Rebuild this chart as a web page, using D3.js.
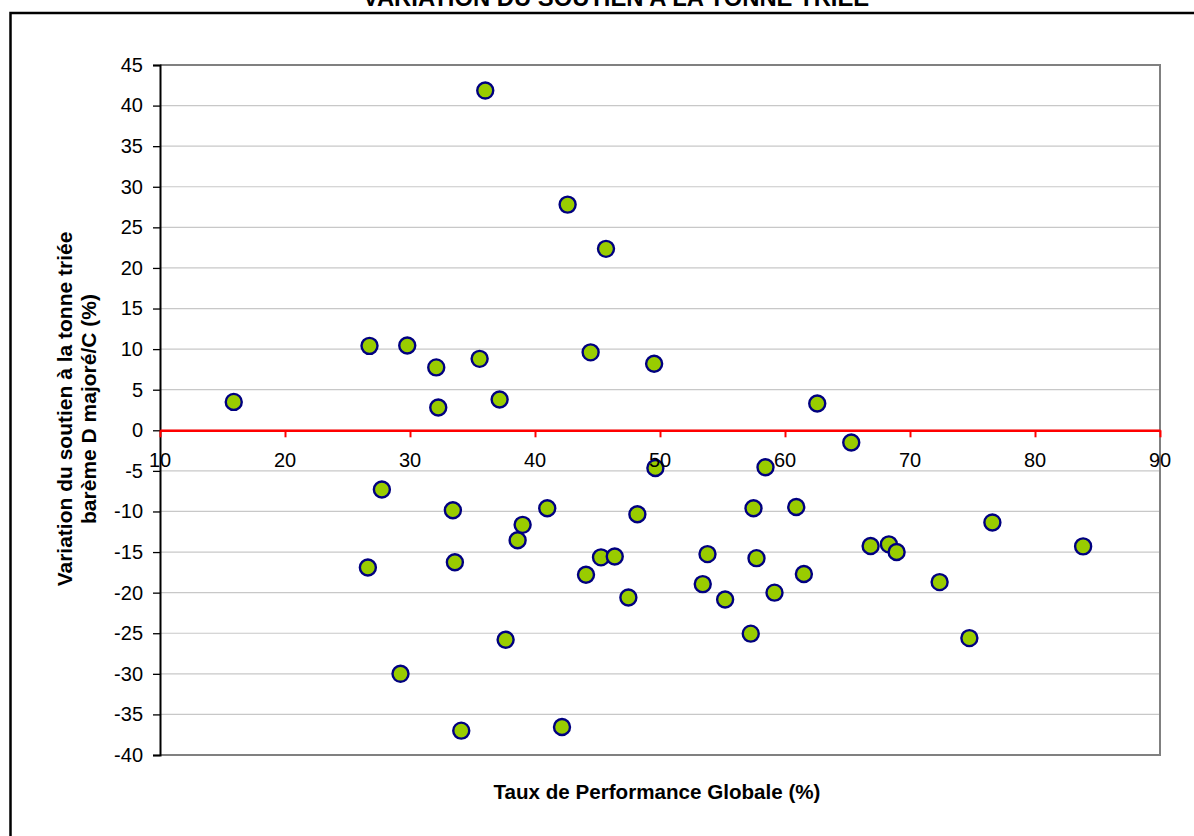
<!DOCTYPE html>
<html>
<head>
<meta charset="utf-8">
<script src="https://cdnjs.cloudflare.com/ajax/libs/d3/7.8.5/d3.min.js"></script>
<style>
  body { margin: 0; background: #fff; }
  text { font-family: "Liberation Sans", Arial, sans-serif; }
</style>
</head>
<body>
<div id="chart"></div>
<script>
// Data
var tauxPerformance = [15.9, 26.63, 26.76, 27.75, 29.24, 29.78, 32.1, 32.26, 33.43, 33.59, 34.1, 35.57,
  36.02, 37.17, 37.65, 38.61, 39.01, 40.98, 42.16, 42.61, 44.08, 44.45, 45.28, 45.68,
  46.38, 47.47, 48.19, 49.53, 49.63, 53.42, 53.8, 55.21, 57.26, 57.48, 57.72, 58.44,
  59.16, 60.9, 61.51, 62.58, 65.3, 66.85, 68.31, 68.93, 72.37, 74.75, 76.59, 83.85];
var variationSoutien = [3.5, -16.9, 10.4, -7.3, -30.0, 10.45, 7.75, 2.8, -9.85, -16.25, -37.0, 8.8,
  41.85, 3.8, -25.8, -13.55, -11.65, -9.6, -36.55, 27.8, -17.8, 9.6, -15.65, 22.35,
  -15.55, -20.6, -10.35, 8.2, -4.65, -18.95, -15.25, -20.85, -25.05, -9.6, -15.75, -4.55,
  -20.0, -9.45, -17.7, 3.3, -1.5, -14.25, -14.05, -15.0, -18.7, -25.6, -11.35, -14.3];
var xTicks = [10, 20, 30, 40, 50, 60, 70, 80, 90];
var yTicks = [45, 40, 35, 30, 25, 20, 15, 10, 5, 0, -5, -10, -15, -20, -25, -30, -35, -40];

var titre = "VARIATION DU SOUTIEN A LA TONNE TRIEE";
var titreX = "Taux de Performance Globale (%)";
var titreY = ["Variation du soutien à la tonne triée", "barème D majoré/C (%)"];

var W = 1194, H = 836;
var plot = {left: 160, right: 1160, top: 65, bottom: 755};

var svg = d3.select("#chart").append("svg")
  .attr("width", W)
  .attr("height", H);

svg.append("rect").attr("width", W).attr("height", H).attr("fill", "#fff");

// outer frame (runs past the right and bottom edges)
svg.append("rect")
  .attr("x", 10.5).attr("y", 13)
  .attr("width", W + 20).attr("height", H + 20)
  .attr("fill", "none")
  .attr("stroke", "#000")
  .attr("stroke-width", 2.5);

var x = d3.scaleLinear().domain([10, 90]).range([plot.left, plot.right]);
var y = d3.scaleLinear().domain([-40, 45]).range([plot.bottom, plot.top]);

// plain hyphen for negative labels, like the original
var fmt = function(d) { return String(d); };

// horizontal gridlines
svg.append("g")
  .selectAll("line")
  .data(yTicks)
  .enter().append("line")
  .attr("x1", plot.left).attr("x2", plot.right)
  .attr("y1", function(d) { return y(d); })
  .attr("y2", function(d) { return y(d); })
  .attr("stroke", "#c8c8c8")
  .attr("stroke-width", 1.2);

// plot area border (top, right, bottom in grey)
svg.append("path")
  .attr("d", "M" + plot.left + "," + y(45) + "H" + plot.right + "V" + y(-40) + "H" + plot.left)
  .attr("fill", "none")
  .attr("stroke", "#808080")
  .attr("stroke-width", 2);

// left axis
var yAxis = svg.append("g")
  .attr("transform", "translate(" + plot.left + ",0)")
  .call(d3.axisLeft(y).tickValues(yTicks).tickSize(7).tickPadding(10).tickFormat(fmt));
yAxis.select(".domain").attr("stroke", "#000").attr("stroke-width", 2);
yAxis.selectAll(".tick line").attr("stroke", "#000").attr("stroke-width", 1.3);
yAxis.selectAll(".tick text")
  .attr("fill", "#000")
  .style("font-size", "20px")
  .style("font-family", "'Liberation Sans', Arial, sans-serif");

// zero line in red with ticks
var xAxis = svg.append("g")
  .attr("transform", "translate(0," + y(0) + ")")
  .call(d3.axisBottom(x).tickValues(xTicks).tickSize(7).tickSizeOuter(0).tickFormat(fmt));
xAxis.select(".domain").attr("stroke", "#ff0000").attr("stroke-width", 2.5);
xAxis.selectAll(".tick line").attr("stroke", "#ff0000").attr("stroke-width", 2);
xAxis.selectAll(".tick text").remove();

// points
svg.append("g")
  .selectAll("circle")
  .data(d3.range(tauxPerformance.length))
  .enter().append("circle")
  .attr("cx", function(i) { return x(tauxPerformance[i]); })
  .attr("cy", function(i) { return y(variationSoutien[i]); })
  .attr("r", 8)
  .attr("fill", "#99cc00")
  .attr("stroke", "#000080")
  .attr("stroke-width", 2.4);

// x tick labels sit under the zero line, drawn over the points
svg.append("g")
  .selectAll("text")
  .data(xTicks)
  .enter().append("text")
  .attr("x", function(d) { return x(d); })
  .attr("y", y(0) + 37)
  .attr("text-anchor", "middle")
  .style("font-size", "20px")
  .attr("fill", "#000")
  .text(fmt);

// titles
svg.append("text")
  .attr("x", 616).attr("y", 6)
  .attr("text-anchor", "middle")
  .style("font-size", "23.8px")
  .style("font-weight", "bold")
  .text(titre);

svg.append("text")
  .attr("x", 657).attr("y", 799)
  .attr("text-anchor", "middle")
  .style("font-size", "20.6px")
  .style("font-weight", "bold")
  .text(titreX);

svg.append("g")
  .selectAll("text")
  .data(titreY)
  .enter().append("text")
  .attr("transform", function(d, i) { return "translate(" + (72 + i * 24) + ",409) rotate(-90)"; })
  .attr("text-anchor", "middle")
  .style("font-size", "21px")
  .style("font-weight", "bold")
  .text(function(d) { return d; });
</script>
</body>
</html>
